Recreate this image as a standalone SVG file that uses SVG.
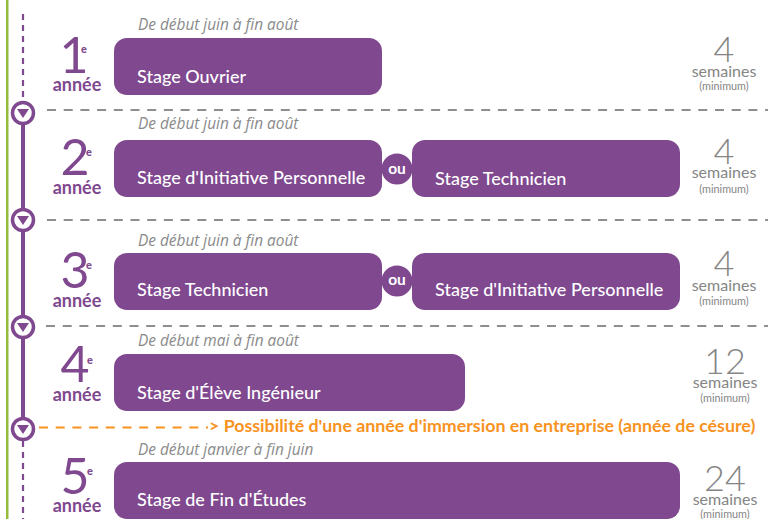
<svg xmlns="http://www.w3.org/2000/svg" width="774" height="519" viewBox="0 0 774 519">
<style>
text{font-family:"Lato","Open Sans","Liberation Sans",sans-serif}
.box{fill:#7f488f}
.lbl{fill:#fff;font-size:18px;font-weight:500}
.ou{fill:#fff;font-size:15.5px;font-weight:700;text-anchor:middle}
.date{fill:#8a8a8a;font-size:15.400px;font-style:italic;font-family:"Open Sans","Liberation Sans",sans-serif}
.num{fill:#7f488f;font-size:50px;font-weight:400;text-anchor:middle}
.sup{fill:#7f488f;font-size:11px;font-weight:900}
.an{fill:#7f488f;font-size:18px;font-weight:700;text-anchor:middle}
.wk{fill:#858585;font-size:36px;font-weight:300;text-anchor:middle}
.sem{fill:#858585;font-size:16px;text-anchor:middle}
.min{fill:#858585;font-size:10.8px;text-anchor:middle}
.gd{stroke:#8e8e8e;stroke-width:2.2;stroke-dasharray:9 7.700;fill:none}
.pv{stroke:#7f488f;stroke-width:2.2;stroke-dasharray:6 5;fill:none}
.ps{stroke:#7f488f;stroke-width:4;fill:none}
.ring{fill:#fff;stroke:#7f488f;stroke-width:3.5}
.tri{fill:#7f488f}
</style>
<rect x="6" y="0" width="2.500" height="519" fill="#94bb3e"/>
<g id="connectors">
<path class="pv" d="M23 14V100"/>
<path class="ps" d="M23 113V428"/>
<path class="pv" d="M23 441V519"/>
<path class="gd" d="M47 110H768"/>
<path class="gd" d="M47 220H768"/>
<path class="gd" d="M46 326H768"/>
<path d="M39 427.500H208" fill="none" stroke="#f7931e" stroke-width="2" stroke-dasharray="9 7.700"/>
</g>
<g id="marker-1"><circle class="ring" cx="23" cy="113" r="10.500"/><path class="tri" d="M17 109H29L23 118Z"/></g>
<g id="marker-2"><circle class="ring" cx="23" cy="220" r="10.500"/><path class="tri" d="M17 216H29L23 225Z"/></g>
<g id="marker-3"><circle class="ring" cx="23" cy="327" r="10.500"/><path class="tri" d="M17 323H29L23 332Z"/></g>
<g id="marker-4"><circle class="ring" cx="23" cy="429" r="10.500"/><path class="tri" d="M17 425H29L23 434Z"/></g>

<g id="year-1">
<text class="date" x="138" y="30">De début juin à fin août</text>
<text class="num" x="74" y="73">1</text><text class="sup" x="81" y="53">e</text>
<text class="an" x="77" y="91">année</text>
<rect class="box" x="114" y="38" width="268" height="57" rx="13"/>
<text class="lbl" x="137" y="83">Stage Ouvrier</text>
<text class="wk" x="724" y="62">4</text><text class="sem" x="724" y="77">semaines</text><text class="min" x="724" y="90">(minimum)</text>
</g>
<g id="year-2">
<text class="date" x="138" y="129">De début juin à fin août</text>
<text class="num" x="75" y="175">2</text><text class="sup" x="86" y="156">e</text>
<text class="an" x="77" y="194">année</text>
<rect class="box" x="114" y="140" width="268" height="57" rx="13"/>
<circle class="box" cx="397" cy="169" r="15.500"/>
<rect class="box" x="412" y="140" width="268" height="57" rx="13"/>
<text class="lbl" x="137" y="184">Stage d'Initiative Personnelle</text>
<text class="ou" x="397" y="174">ou</text>
<text class="lbl" x="435" y="185">Stage Technicien</text>
<text class="wk" x="724" y="164">4</text><text class="sem" x="724" y="178">semaines</text><text class="min" x="724" y="193">(minimum)</text>
</g>
<g id="year-3">
<text class="date" x="138" y="246">De début juin à fin août</text>
<text class="num" x="75" y="288">3</text><text class="sup" x="86" y="269">e</text>
<text class="an" x="77" y="307">année</text>
<rect class="box" x="114" y="253" width="268" height="57" rx="13"/>
<circle class="box" cx="397" cy="281" r="15.500"/>
<rect class="box" x="412" y="253" width="268" height="57" rx="13"/>
<text class="lbl" x="137" y="296">Stage Technicien</text>
<text class="ou" x="397" y="285">ou</text>
<text class="lbl" x="435" y="296">Stage d'Initiative Personnelle</text>
<text class="wk" x="724" y="276">4</text><text class="sem" x="724" y="291">semaines</text><text class="min" x="724" y="305">(minimum)</text>
</g>
<g id="year-4">
<text class="date" x="138" y="346">De début mai à fin août</text>
<text class="num" x="75" y="382">4</text><text class="sup" x="87" y="364">e</text>
<text class="an" x="77" y="401">année</text>
<rect class="box" x="114" y="354" width="351" height="57" rx="13"/>
<text class="lbl" x="137" y="399">Stage d'Élève Ingénieur</text>
<text class="wk" x="725" y="374">12</text><text class="sem" x="725" y="388">semaines</text><text class="min" x="725" y="402">(minimum)</text>
</g>
<g id="cesure">
<text x="209" y="432" fill="#f7931e" font-size="17.800" font-weight="700">&gt; Possibilité d'une année d'immersion en entreprise (année de césure)</text>
</g>
<g id="year-5">
<text class="date" x="138" y="455">De début janvier à fin juin</text>
<text class="num" x="75" y="494">5</text><text class="sup" x="87" y="475">e</text>
<text class="an" x="77" y="512">année</text>
<rect class="box" x="114" y="462" width="566" height="57" rx="13"/>
<text class="lbl" x="137" y="506">Stage de Fin d'Études</text>
<text class="wk" x="725" y="491">24</text><text class="sem" x="725" y="505">semaines</text><text class="min" x="725" y="518">(minimum)</text>
</g>
</svg>
